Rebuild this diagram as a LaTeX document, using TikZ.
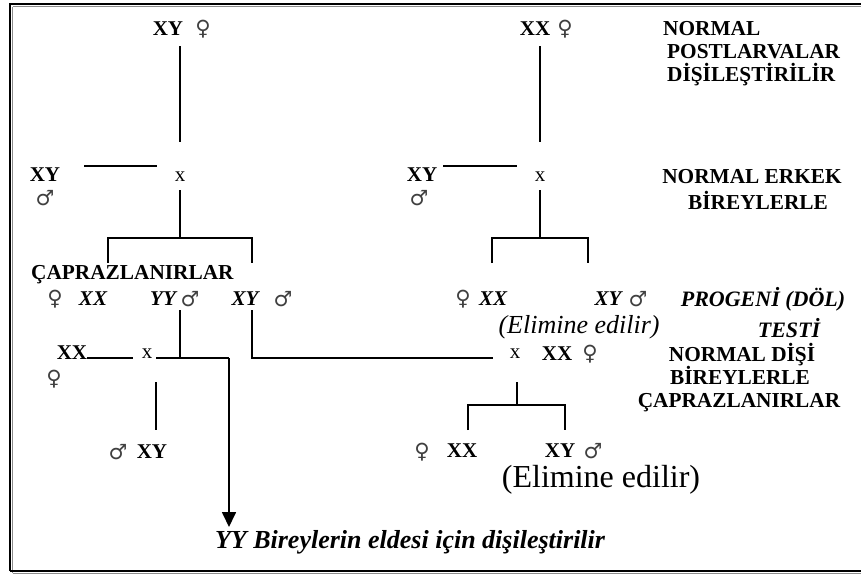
\documentclass[tikz,border=0pt]{standalone}
\usepackage{fontspec}
\setmainfont{Liberation Serif}
\newfontfamily\symfont{DejaVu Sans}
\usetikzlibrary{arrows.meta}
\begin{document}
\begin{tikzpicture}[x=1pt,y=-1pt,
  bx/.style={font=\bfseries\fontsize{21}{24}\selectfont, inner sep=0},
  bi/.style={font=\bfseries\itshape\fontsize{21}{24}\selectfont, inner sep=0},
  rx/.style={font=\fontsize{21}{24}\selectfont, inner sep=0},
  sx/.style={font=\symfont\fontsize{21}{24}\selectfont, text=black!75, inner sep=0},
  lbl/.style={font=\bfseries\fontsize{21.3}{24}\selectfont, inner sep=0},
  ln/.style={line width=1.7pt}]
\useasboundingbox (0,0) rectangle (861,574);
% frame
\draw[line width=1pt, black!45] (12.5,6.5) -- (861,6.5);
\draw[line width=1pt, black!45] (12.5,6.5) -- (12.5,573);
\draw[line width=1pt, black!45] (12.5,573) -- (861,573);
\draw[line width=2pt] (10,571) -- (10,4) -- (861,4);
\draw[line width=2pt] (10,571) -- (861,571);

% top generation
\node[bx] (n1) at (168,29) {XY};
\node[sx] (f1) at (203,29) {♀};
\node[bx] (n2) at (535,29) {XX};
\node[sx] (f2) at (565,29) {♀};
\node[lbl, anchor=west] (l1) at (663,29) {NORMAL};
\node[lbl, anchor=west] (l2) at (667,52) {POSTLARVALAR};
\node[lbl, anchor=west] (l3) at (667,75) {DİŞİLEŞTİRİLİR};

% second row
\node[bx] (n3) at (45,175) {XY};
\node[sx] (m3) at (45,198) {♂};
\node[rx] (x1) at (180,177) {x};
\node[bx] (n4) at (422,175) {XY};
\node[sx] (m4) at (419,198) {♂};
\node[rx] (x2) at (540,177) {x};
\node[lbl] (l4) at (752,177) {NORMAL ERKEK};
\node[lbl] (l5) at (758,200) {BİREYLERLE};

% third row
\node[lbl, anchor=west] (l6) at (31,275) {ÇAPRAZLANIRLAR};
\node[sx] (f5) at (55,299) {♀};
\node[bi] (n5) at (93,299) {XX};
\node[bi] (n6) at (163,299) {YY};
\node[sx] (m6) at (190,299) {♂};
\node[bi] (n7) at (245,299) {XY};
\node[sx] (m7) at (283,299) {♂};
\node[sx] (f8) at (463,299) {♀};
\node[bi] (n8) at (493,299) {XX};
\node[bi] (n9) at (608,299) {XY};
\node[sx] (m9) at (638,299) {♂};
\node[font=\bfseries\itshape\fontsize{22}{24}\selectfont, inner sep=0] (l7) at (763,299) {PROGENİ (DÖL)};
\node[font=\itshape\fontsize{26}{30}\selectfont, inner sep=0] (e1) at (579,327) {(Elimine edilir)};
\node[font=\bfseries\itshape\fontsize{22}{24}\selectfont, inner sep=0] (l8) at (789,328) {TESTİ};

% fourth row
\node[bx] (n10) at (72,353) {XX};
\node[sx] (f10) at (54,379) {♀};
\node[rx] (x3) at (147,354) {x};
\node[rx] (x4) at (515,354) {x};
\node[bx] (n11) at (557,354) {XX};
\node[sx] (f11) at (590,354) {♀};
\node[lbl] (l9) at (742,355) {NORMAL DİŞİ};
\node[lbl, anchor=base, text depth=0pt] (l10) at (740,384) {BİREYLERLE};
\node[lbl, anchor=base, text height=15pt] (l11) at (739,407) {ÇAPRAZLANIRLAR};

% fifth row
\node[sx] (m12) at (118,452) {♂};
\node[bx] (n12) at (152,452) {XY};
\node[sx] (f13) at (422,452) {♀};
\node[bx] (n13) at (462,451) {XX};
\node[bx] (n14) at (560,451) {XY};
\node[sx] (m14) at (593,451) {♂};
\node[font=\fontsize{32}{36}\selectfont, inner sep=0] (e2) at (601,480) {(Elimine edilir)};
\node[font=\bfseries\itshape\fontsize{26}{30}\selectfont, inner sep=0] (res) at (410,542) {YY Bireylerin eldesi için dişileştirilir};

% connector end points
\coordinate (a1) at (180,46);  \coordinate (a2) at (180,142);
\coordinate (b1) at (540,46);  \coordinate (b2) at (540,142);
\coordinate (c1) at (84,166);  \coordinate (c2) at (157,166);
\coordinate (d1) at (443,166); \coordinate (d2) at (517,166);
\coordinate (e1a) at (180,190); \coordinate (e1b) at (180,238);
\coordinate (bl1) at (108,238); \coordinate (bl2) at (252,238);
\coordinate (bl1d) at (108,263); \coordinate (bl2d) at (252,263);
\coordinate (g1) at (540,190); \coordinate (g2) at (540,238);
\coordinate (br1) at (492,238); \coordinate (br2) at (588,238);
\coordinate (br1d) at (492,263); \coordinate (br2d) at (588,263);
\coordinate (h1) at (87,358);  \coordinate (h2) at (133,358);
\coordinate (yy1) at (180,310); \coordinate (yy2) at (180,358);
\coordinate (k1) at (156,358); \coordinate (k2) at (229,358);
\coordinate (arr) at (229,527);
\coordinate (xy1) at (252,310); \coordinate (xy2) at (252,358);
\coordinate (xy3) at (493,358);
\coordinate (p1) at (156,382); \coordinate (p2) at (156,430);
\coordinate (q1) at (517,382); \coordinate (q2) at (517,405);
\coordinate (r1) at (468,405); \coordinate (r2) at (565,405);
\coordinate (r1d) at (468,430); \coordinate (r2d) at (565,430);

\draw[ln] (a1) -- (a2);
\draw[ln] (b1) -- (b2);
\draw[ln] (c1) -- (c2);
\draw[ln] (d1) -- (d2);
\draw[ln] (e1a) -- (e1b);
\draw[ln] (bl1d) -- (bl1) -- (bl2) -- (bl2d);
\draw[ln] (g1) -- (g2);
\draw[ln] (br1d) -- (br1) -- (br2) -- (br2d);
\draw[ln] (h1) -- (h2);
\draw[ln] (yy1) -- (yy2);
\draw[ln] (k1) -- (k2);
\draw[ln, -{Triangle[length=15pt,width=14pt]}] (k2) -- (arr);
\draw[ln] (xy1) -- (xy2) -- (xy3);
\draw[ln] (p1) -- (p2);
\draw[ln] (q1) -- (q2);
\draw[ln] (r1d) -- (r1) -- (r2) -- (r2d);
\end{tikzpicture}
\end{document}
